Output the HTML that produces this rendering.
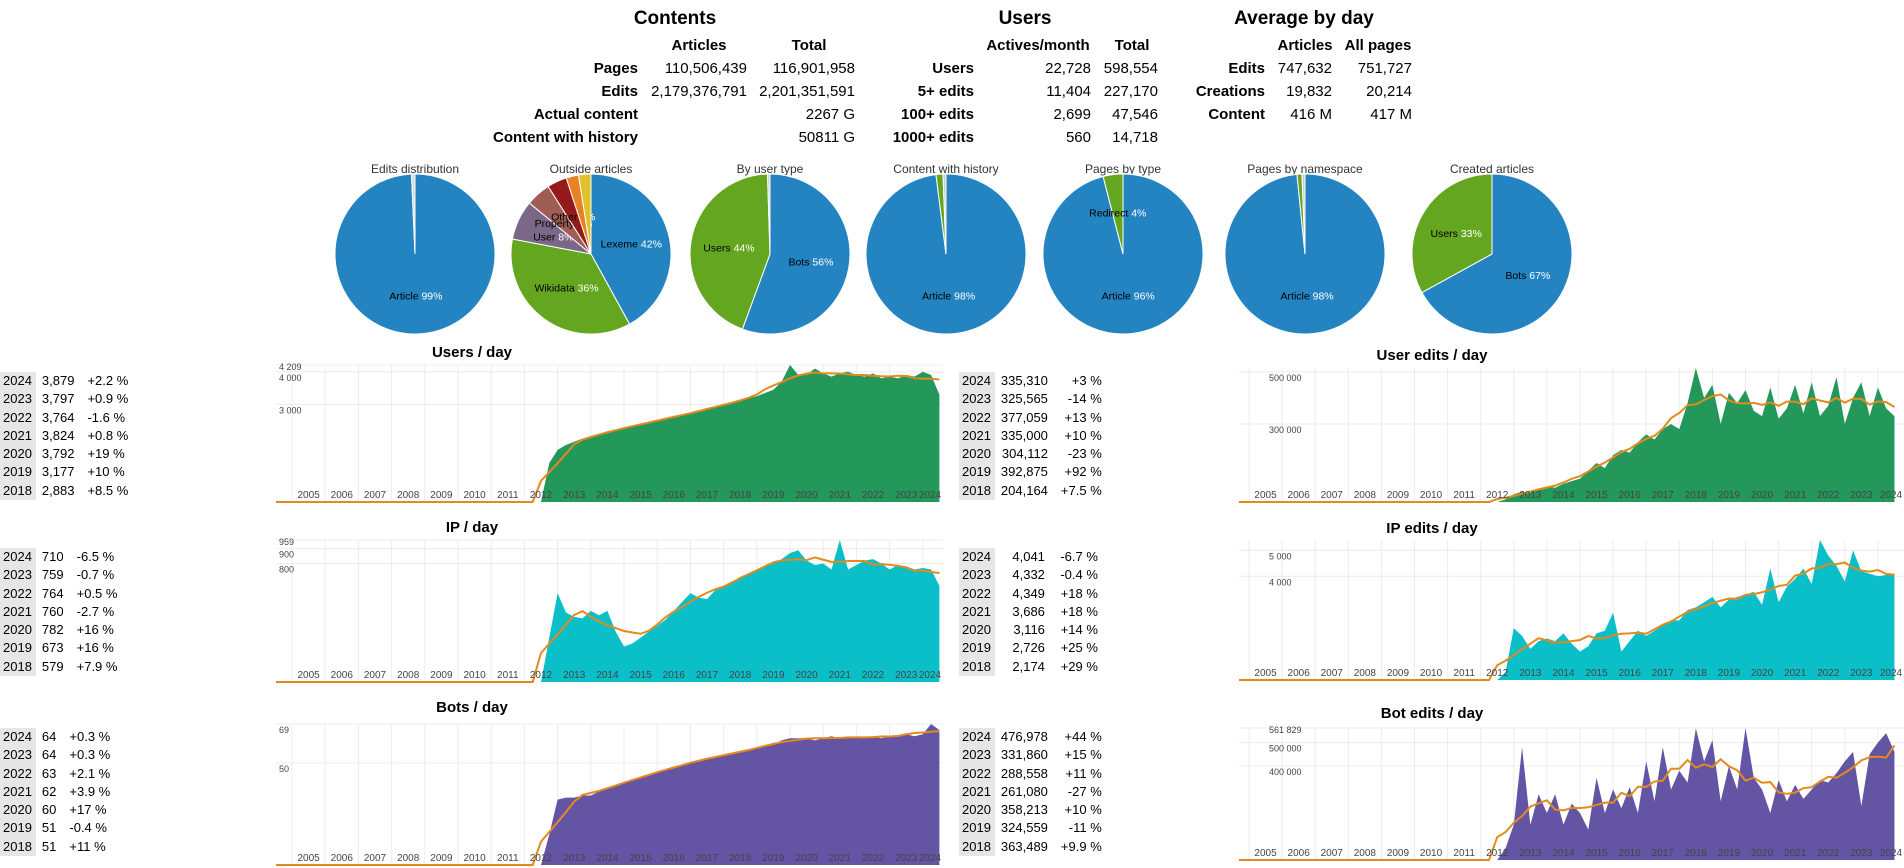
<!DOCTYPE html>
<html><head><meta charset="utf-8">
<style>
body{margin:0;width:1904px;height:868px;overflow:hidden;background:#fff;font-family:"Liberation Sans",Arial,sans-serif;color:#000;position:relative}
.t{position:absolute;font-size:15px;line-height:20px;white-space:nowrap}
.b{font-weight:bold}
.h{position:absolute;font-size:19px;font-weight:bold;line-height:24px;white-space:nowrap;transform:translateX(-50%)}
.c{transform:translateX(-50%)}
table.st{position:absolute;border-collapse:collapse;font-size:13px;line-height:18.3px}
table.st td{padding:0 3px;white-space:nowrap}
table.st td.y{background:#e6e6e6;padding:0 4px 0 3px}
table.st td.v{padding-left:6px}
table.st td.p{padding-left:10px}
table.mid td.v{text-align:right;min-width:44px}
table.mid td.p{text-align:right;min-width:40px}
svg{position:absolute;left:0;top:0}
</style></head><body>
<div class="h" style="left:675px;top:7px">Contents</div>
<div class="t b c" style="left:699px;top:36px">Articles</div>
<div class="t b c" style="left:809px;top:36px">Total</div>
<div class="t b" style="right:1266px;top:59px">Pages</div>
<div class="t b" style="right:1266px;top:82px">Edits</div>
<div class="t b" style="right:1266px;top:105px">Actual content</div>
<div class="t b" style="right:1266px;top:128px">Content with history</div>
<div class="t" style="right:1157px;top:59px">110,506,439</div>
<div class="t" style="right:1157px;top:82px">2,179,376,791</div>
<div class="t" style="right:1049px;top:59px">116,901,958</div>
<div class="t" style="right:1049px;top:82px">2,201,351,591</div>
<div class="t" style="right:1049px;top:105px">2267 G</div>
<div class="t" style="right:1049px;top:128px">50811 G</div>
<div class="h" style="left:1025px;top:7px">Users</div>
<div class="t b c" style="left:1038px;top:36px">Actives/month</div>
<div class="t b c" style="left:1132px;top:36px">Total</div>
<div class="t b" style="right:930px;top:59px">Users</div>
<div class="t b" style="right:930px;top:82px">5+ edits</div>
<div class="t b" style="right:930px;top:105px">100+ edits</div>
<div class="t b" style="right:930px;top:128px">1000+ edits</div>
<div class="t" style="right:813px;top:59px">22,728</div>
<div class="t" style="right:813px;top:82px">11,404</div>
<div class="t" style="right:813px;top:105px">2,699</div>
<div class="t" style="right:813px;top:128px">560</div>
<div class="t" style="right:746px;top:59px">598,554</div>
<div class="t" style="right:746px;top:82px">227,170</div>
<div class="t" style="right:746px;top:105px">47,546</div>
<div class="t" style="right:746px;top:128px">14,718</div>
<div class="h" style="left:1304px;top:7px">Average by day</div>
<div class="t b c" style="left:1305px;top:36px">Articles</div>
<div class="t b c" style="left:1378px;top:36px">All pages</div>
<div class="t b" style="right:639px;top:59px">Edits</div>
<div class="t b" style="right:639px;top:82px">Creations</div>
<div class="t b" style="right:639px;top:105px">Content</div>
<div class="t" style="right:572px;top:59px">747,632</div>
<div class="t" style="right:572px;top:82px">19,832</div>
<div class="t" style="right:572px;top:105px">416 M</div>
<div class="t" style="right:492px;top:59px">751,727</div>
<div class="t" style="right:492px;top:82px">20,214</div>
<div class="t" style="right:492px;top:105px">417 M</div>

<svg id="main" width="1904" height="868" xmlns="http://www.w3.org/2000/svg" font-family="Liberation Sans, Arial, sans-serif"></svg>

<script>
const statYears = ["2024","2023","2022","2021","2020","2019","2018"];
const usersDayVals = ["3,879","3,797","3,764","3,824","3,792","3,177","2,883"];
const usersDayPct = ["+2.2 %","+0.9 %","-1.6 %","+0.8 %","+19 %","+10 %","+8.5 %"];
const ipDayVals = ["710","759","764","760","782","673","579"];
const ipDayPct = ["-6.5 %","-0.7 %","+0.5 %","-2.7 %","+16 %","+16 %","+7.9 %"];
const botsDayVals = ["64","64","63","62","60","51","51"];
const botsDayPct = ["+0.3 %","+0.3 %","+2.1 %","+3.9 %","+17 %","-0.4 %","+11 %"];
const userEditsVals = ["335,310","325,565","377,059","335,000","304,112","392,875","204,164"];
const userEditsPct = ["+3 %","-14 %","+13 %","+10 %","-23 %","+92 %","+7.5 %"];
const ipEditsVals = ["4,041","4,332","4,349","3,686","3,116","2,726","2,174"];
const ipEditsPct = ["-6.7 %","-0.4 %","+18 %","+18 %","+14 %","+25 %","+29 %"];
const botEditsVals = ["476,978","331,860","288,558","261,080","358,213","324,559","363,489"];
const botEditsPct = ["+44 %","+15 %","+11 %","-27 %","+10 %","-11 %","+9.9 %"];

function makeTable(name, left, top, vals, pcts, mid){
  const t=document.createElement('table');
  t.className='st'+(mid?' mid':'');
  t.style.left=left+'px'; t.style.top=top+'px';
  
  
  statYears.forEach((y,i)=>{
    const tr=document.createElement('tr');
    
    
    tr.innerHTML='<td class="y">'+y+'</td><td class="v">'+vals[i]+'</td><td class="p">'+pcts[i]+'</td>';
    t.appendChild(tr);
  });
  document.body.appendChild(t);
}
makeTable('users-day-stats',0,372,usersDayVals,usersDayPct,false);
makeTable('ip-day-stats',0,548,ipDayVals,ipDayPct,false);
makeTable('bots-day-stats',0,728,botsDayVals,botsDayPct,false);
makeTable('user-edits-stats',959,372,userEditsVals,userEditsPct,true);
makeTable('ip-edits-stats',959,548,ipEditsVals,ipEditsPct,true);
makeTable('bot-edits-stats',959,728,botEditsVals,botEditsPct,true);

const pieTitles = ["Edits distribution","Outside articles","By user type","Content with history","Pages by type","Pages by namespace","Created articles"];
const pie1Labels=["Article",""]; const pie1Values=[99.3,0.7];
const pie2Labels=["Lexeme","Wikidata","User","Property","Other","",""]; const pie2Values=[42,36,8,5,4,2.5,2.5];
const pie3Labels=["Bots","Users",""]; const pie3Values=[55.6,43.9,0.5];
const pie4Labels=["Article","",""]; const pie4Values=[98,1.4,0.6];
const pie5Labels=["Article","Redirect"]; const pie5Values=[96,4];
const pie6Labels=["Article","",""]; const pie6Values=[98.4,1,0.6];
const pie7Labels=["Bots","Users"]; const pie7Values=[67,33];
const pieColors=[["#2484c1","#d8d8d8"],["#2484c1","#65a620","#7b6888","#a05d56","#961a1a","#e98125","#e2c22a"],["#2484c1","#65a620","#cccccc"],["#2484c1","#65a620","#cccccc"],["#2484c1","#65a620"],["#2484c1","#65a620","#cccccc"],["#2484c1","#65a620"]];
const pieLabelSets=[pie1Labels,pie2Labels,pie3Labels,pie4Labels,pie5Labels,pie6Labels,pie7Labels];
const pieValueSets=[pie1Values,pie2Values,pie3Values,pie4Values,pie5Values,pie6Values,pie7Values];
const pieCx=[415,591,770,946,1123,1305,1492], pieCy=254, pieR=80;
const NS='http://www.w3.org/2000/svg';
const svg=document.getElementById('main');
function el(tag,attrs,parent){const e=document.createElementNS(NS,tag);for(const k in attrs)e.setAttribute(k,attrs[k]);(parent||svg).appendChild(e);return e;}

pieTitles.forEach((title,p)=>{
  const g=el('g',{});
  
  
  const tt=el('text',{x:pieCx[p],y:173,'text-anchor':'middle','font-size':12,fill:'#333'},g);
  tt.textContent=title;
  
  
  const vals=pieValueSets[p], labs=pieLabelSets[p];
  const tot=vals.reduce((a,b)=>a+b,0);
  let a0=0;
  vals.forEach((v,i)=>{
    const a1=a0+v/tot*2*Math.PI;
    const cx=pieCx[p],cy=pieCy,r=pieR;
    const x0=cx+r*Math.sin(a0),y0=cy-r*Math.cos(a0),x1=cx+r*Math.sin(a1),y1=cy-r*Math.cos(a1);
    const large=(a1-a0)>Math.PI?1:0;
    const s=el('path',{d:`M${cx},${cy}L${x0},${y0}A${r},${r} 0 ${large} 1 ${x1},${y1}Z`,fill:pieColors[p][i],stroke:'#fff','stroke-width':1},g);
    
    
    if(labs[i] && v>=3){
      const am=(a0+a1)/2, lr=r*0.52;
      const lx=cx+lr*Math.sin(am), ly=cy-lr*Math.cos(am)+4;
      const tx=el('text',{x:lx,y:ly,'text-anchor':'middle','font-size':10.5},g);
      
      
      const s1=el('tspan',{fill:'#000'},tx); s1.textContent=labs[i]+'  ';
      const s2=el('tspan',{fill:'#fff'},tx); s2.textContent=Math.round(v)+'%';
    }
    a0=a1;
  });
});

const startYear=2012.5, stepYear=0.25;
const yearLabels=["2005","2006","2007","2008","2009","2010","2011","2012","2013","2014","2015","2016","2017","2018","2019","2020","2021","2022","2023","2024"];
const usersDay=[0,1200,1600,1750,1850,1950,2000,2100,2150,2200,2250,2350,2400,2450,2500,2550,2600,2650,2750,2800,2850,2900,3000,3050,3100,3200,3250,3350,3450,3700,4209,3900,3900,4100,3950,3850,3950,4000,3900,3850,3950,3800,3850,3800,3900,3850,4000,3900,3300];
const ipDay=[0,300,600,470,440,430,480,450,480,340,240,260,300,340,380,420,480,540,600,570,560,620,650,680,700,730,760,780,800,830,870,890,820,790,800,760,959,760,790,820,830,800,760,790,780,760,770,760,650];
const botsDay=[0,15,32,33,33,34,34,36,38,39,40,42,43,44,45,47,48,49,50,51,52,53,54,55,55,56,57,58,59,61,62,62,62,61,62,63,62,62,63,62,63,62,63,63,64,63,64,69,66];
const userEdits=[0,10000,30000,40000,35000,50000,60000,55000,70000,80000,90000,120000,150000,130000,180000,200000,190000,230000,260000,240000,280000,300000,280000,380000,515000,400000,450000,300000,420000,380000,430000,350000,330000,440000,320000,360000,450000,340000,460000,330000,370000,480000,300000,400000,460000,330000,440000,360000,330000];
const ipEdits=[0,300,2000,1700,1200,1500,1600,1500,1800,1400,1100,1300,1800,1900,2600,1100,1500,1900,1700,1900,2100,2300,2300,2700,2800,3000,3200,2800,3100,3200,3300,3400,2900,4300,3000,3600,3900,4300,3700,5400,4800,4400,3800,5000,4200,4100,4000,4050,4100];
const botEdits=[0,50000,150000,480000,150000,280000,200000,280000,150000,240000,200000,130000,350000,200000,300000,220000,310000,200000,420000,250000,480000,300000,380000,330000,560000,420000,510000,250000,400000,300000,561829,350000,300000,200000,340000,250000,320000,260000,300000,340000,330000,370000,420000,460000,230000,450000,500000,540000,460000];
const usersTicks=[4209,4000,3000], usersTickLabels=["4 209","4 000","3 000"];
const ipTicks=[959,900,800], ipTickLabels=["959","900","800"];
const botsTicks=[69,50], botsTickLabels=["69","50"];
const userEditsTicks=[500000,300000], userEditsTickLabels=["500 000","300 000"];
const ipEditsTicks=[5000,4000], ipEditsTickLabels=["5 000","4 000"];
const botEditsTicks=[561829,500000,400000], botEditsTickLabels=["561 829","500 000","400 000"];

const charts=[
 {name:'users-day',title:'Users / day',data:usersDay,ticks:usersTicks,tl:usersTickLabels,max:4209,color:'#23985a',L:276,X0:292,W:33.2,R:943,T:365,B:502,ty:352,tx:472},
 {name:'ip-day',title:'IP / day',data:ipDay,ticks:ipTicks,tl:ipTickLabels,max:959,color:'#0abfc8',L:276,X0:292,W:33.2,R:943,T:540,B:682,ty:527,tx:472},
 {name:'bots-day',title:'Bots / day',data:botsDay,ticks:botsTicks,tl:botsTickLabels,max:69,color:'#6455a4',L:276,X0:292,W:33.2,R:943,T:724,B:865,ty:707,tx:472},
 {name:'user-edits-day',title:'User edits / day',data:userEdits,ticks:userEditsTicks,tl:userEditsTickLabels,max:515000,color:'#23985a',L:1239,X0:1249,W:33.1,R:1904,T:368,B:502,ty:355,tx:1432},
 {name:'ip-edits-day',title:'IP edits / day',data:ipEdits,ticks:ipEditsTicks,tl:ipEditsTickLabels,max:5400,color:'#0abfc8',L:1239,X0:1249,W:33.1,R:1904,T:540,B:680,ty:528,tx:1432},
 {name:'bot-edits-day',title:'Bot edits / day',data:botEdits,ticks:botEditsTicks,tl:botEditsTickLabels,max:561829,color:'#6455a4',L:1239,X0:1249,W:33.1,R:1904,T:728,B:860,ty:713,tx:1432}
];

charts.forEach(c=>{
  const g=el('g',{});
  
  
  const xs=t=>c.X0+(t-2005)*c.W;
  const ys=v=>c.B-(v/c.max)*(c.B-c.T);
  const title=el('text',{x:c.tx,y:c.ty+5,'text-anchor':'middle','font-size':15,'font-weight':'bold'},g);
  title.textContent=c.title;
  
  
  yearLabels.forEach((yl,i)=>{
    const x=xs(2005+i);
    const gl=el('line',{x1:x,x2:x,y1:c.T,y2:c.B,stroke:'#ececec','stroke-width':1},g);
    
    
  });
  c.ticks.forEach((tv,i)=>{
    const y=ys(tv);
    const hl=el('line',{x1:c.L,x2:c.R,y1:y,y2:y,stroke:'#ececec','stroke-width':1},g);
    
    
  });
  const n=c.data.length;
  let d=`M${xs(startYear)},${c.B}`;
  c.data.forEach((v,i)=>{d+=`L${xs(startYear+i*stepYear)},${ys(v)}`;});
  d+=`L${Math.min(c.R,xs(startYear+(n-1)*stepYear))},${c.B}Z`;
  const area=el('path',{d:d,fill:c.color},g);
  
  
  let pd=`M${c.L},${c.B}L${xs(startYear-0.25)},${c.B}`;
  for(let i=0;i<n;i++){
    let s=0,k=0;
    for(let j=i-3;j<=i+3;j++){ if(j<n){ s+=(j>=0?c.data[j]:0); k++; } }
    pd+=`L${xs(startYear+i*stepYear)},${ys(s/k)}`;
  }
  const tr=el('path',{d:pd,fill:'none',stroke:'#e38a1e','stroke-width':2},g);
  
  
  c.ticks.forEach((tv,i)=>{
    const y=ys(tv);
    const tl=el('text',{x:c.L+(c.L<1000?3:30),y:y+(i===0&&c.tl.length>2?5:9),'font-size':9,fill:'#444'},g);
    tl.textContent=c.tl[i];
    
    
  });
  yearLabels.forEach((yl,i)=>{
    const x=xs(2005+i)+c.W/2;
    const t=el('text',{x:Math.min(x,c.R-13),y:c.B-4,'text-anchor':'middle','font-size':10,fill:'#444'},g);
    t.textContent=yl;
    
    
  });
});
</script>
</body></html>
